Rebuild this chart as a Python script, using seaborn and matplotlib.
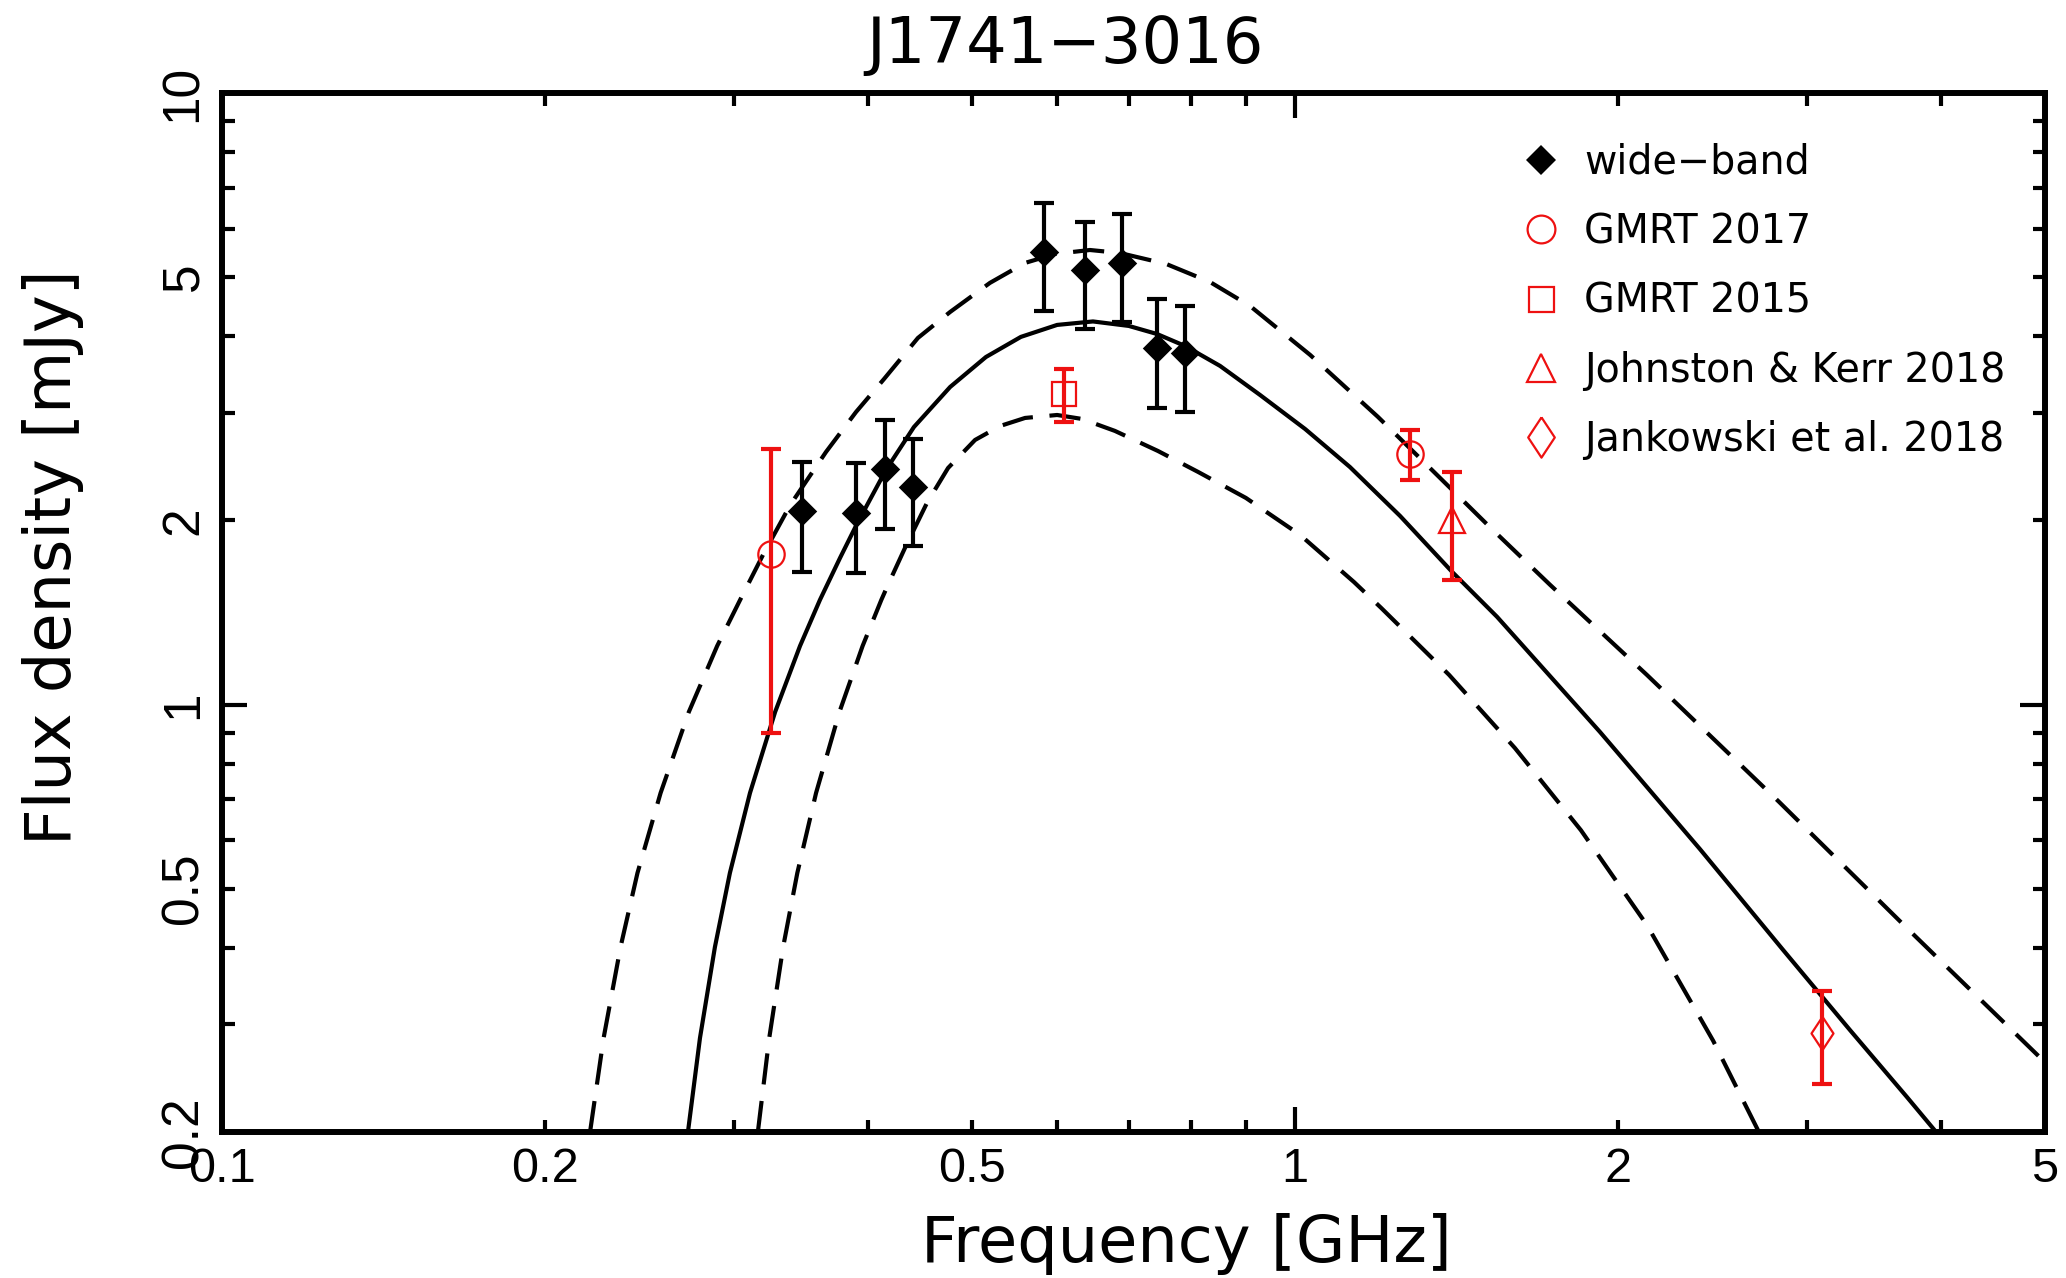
import numpy as np
import pandas as pd
import seaborn as sns
import matplotlib
matplotlib.use('Agg')
import matplotlib.pyplot as plt
from matplotlib.lines import Line2D
from matplotlib.ticker import FixedLocator, FuncFormatter
from matplotlib import font_manager

# ---------------- data ----------------
wb_freq = [0.347, 0.390, 0.415, 0.441, 0.583, 0.637, 0.690, 0.744, 0.789]
wb_flux = [2.07, 2.06, 2.43, 2.27, 5.50, 5.13, 5.28, 3.83, 3.75]
wb_err = [0.42, 0.42, 0.49, 0.45, 1.10, 1.02, 1.05, 0.78, 0.74]

g17_freq = [0.325, 1.28]
g17_flux = [1.76, 2.57]
g17_err = [0.86, 0.245]

g15_freq = [0.609]
g15_flux = [3.22]
g15_err = [0.32]

jk_freq = [1.40]
jk_flux = [2.00]
jk_err = [0.40]

jan_freq = [3.10]
jan_flux = [0.29]
jan_err = [0.05]

fit_freq = [0.2718, 0.2789, 0.2880, 0.2974, 0.3105, 0.3277, 0.3457, 0.3608, 0.3767,
            0.3906, 0.4157, 0.4414, 0.4771, 0.5152, 0.5553, 0.6002, 0.6482, 0.7001,
            0.7436, 0.7898, 0.8514, 0.9277, 1.022, 1.125, 1.253, 1.401, 1.543,
            1.924, 2.385, 2.850, 3.290, 3.719, 3.958]
fit_flux = [0.200, 0.2849, 0.4014, 0.5304, 0.7168, 0.9723, 1.247, 1.483, 1.737,
            1.974, 2.419, 2.843, 3.306, 3.701, 3.992, 4.176, 4.231, 4.160,
            4.036, 3.858, 3.579, 3.208, 2.822, 2.446, 2.034, 1.648, 1.391,
            0.902, 0.580, 0.397, 0.2936, 0.228, 0.200]

up_freq = [0.2203, 0.2268, 0.2352, 0.2439, 0.2563, 0.2723, 0.2894, 0.3040, 0.3193,
           0.3385, 0.3655, 0.3898, 0.4140, 0.4452, 0.4771, 0.5196, 0.5603, 0.5976,
           0.6440, 0.6868, 0.7584, 0.8332, 0.9080, 1.033, 1.195, 1.327, 1.519,
           1.729, 2.128, 2.826, 3.743, 5.0]
up_flux = [0.200, 0.2849, 0.4014, 0.5304, 0.7168, 0.9723, 1.247, 1.483, 1.757,
           2.120, 2.588, 3.008, 3.407, 3.976, 4.385, 4.892, 5.274, 5.455,
           5.537, 5.475, 5.254, 4.909, 4.485, 3.730, 2.953, 2.465, 1.951,
           1.569, 1.118, 0.693, 0.426, 0.260]

lo_freq = [0.3158, 0.3236, 0.3334, 0.3437, 0.3578, 0.3762, 0.3954, 0.4116, 0.4175,
           0.4330, 0.4539, 0.4750, 0.5033, 0.5310, 0.5603, 0.6002, 0.6331, 0.6794,
           0.7452, 0.8122, 0.9000, 1.011, 1.135, 1.203, 1.392, 1.603, 1.847,
           2.128, 2.453, 2.706]
lo_flux = [0.200, 0.2849, 0.4014, 0.5304, 0.7168, 0.9723, 1.247, 1.483, 1.569,
           1.803, 2.136, 2.437, 2.708, 2.854, 2.942, 2.975, 2.931, 2.802,
           2.598, 2.401, 2.177, 1.894, 1.586, 1.439, 1.118, 0.849, 0.623,
           0.436, 0.282, 0.200]

x_major = [0.1, 1.0]
x_minor = [0.2, 0.3, 0.4, 0.5, 0.6, 0.7, 0.8, 0.9, 2.0, 3.0, 4.0, 5.0]
y_major = [1.0, 10.0]
y_minor = [0.2, 0.3, 0.4, 0.5, 0.6, 0.7, 0.8, 0.9, 2.0, 3.0, 4.0, 5.0, 6.0, 7.0, 8.0, 9.0]
labelled = [0.1, 0.2, 0.5, 1.0, 2.0, 5.0, 10.0]

legend_labels = ['wide\u2212band', 'GMRT 2017', 'GMRT 2015',
                 'Johnston & Kerr 2018', 'Jankowski et al. 2018']
title_text = 'J1741\u22123016'
xlabel_text = 'Frequency [GHz]'
ylabel_text = 'Flux density [mJy]'

# ---------------- style ----------------
sns.set_theme(style='white')
names = {f.name for f in font_manager.fontManager.ttflist}
if 'Liberation Sans Narrow' in names:
    tick_font, xsize, ysize = 'Liberation Sans Narrow', 38, 40
elif 'Liberation Sans' in names:
    tick_font, xsize, ysize = 'Liberation Sans', 35, 37
else:
    tick_font, xsize, ysize = 'DejaVu Sans', 31, 33
plt.rcParams['font.family'] = [tick_font, 'DejaVu Sans']
plt.rcParams['axes.unicode_minus'] = True

RED = '#ee1111'
W, H = 2066, 1278
fig = plt.figure(figsize=(W / 100, H / 100), dpi=100)
fig.patch.set_facecolor('white')
L, R, T, B = 222, 2045, 93, 1132
ax = fig.add_axes([L / W, 1 - B / H, (R - L) / W, (B - T) / H])
ax.set_facecolor('white')
ax.set_xscale('log')
ax.set_yscale('log')

DASH = (0, (7.5, 4.0))
# model curves
sns.lineplot(x=fit_freq, y=fit_flux, ax=ax, color='black', lw=3.0,
             sort=False, estimator=None, zorder=2)
sns.lineplot(x=up_freq, y=up_flux, ax=ax, color='black', lw=3.0,
             sort=False, estimator=None, zorder=2, linestyle=DASH)
sns.lineplot(x=lo_freq, y=lo_flux, ax=ax, color='black', lw=3.0,
             sort=False, estimator=None, zorder=2, linestyle=DASH)

# wide-band points
ax.errorbar(wb_freq, wb_flux, yerr=wb_err, fmt='none', ecolor='black',
            elinewidth=3, capsize=7.5, capthick=3, zorder=3)
sns.scatterplot(x=wb_freq, y=wb_flux, ax=ax, marker='D', s=15 ** 2,
                color='black', edgecolor='black', linewidth=0, zorder=4)

jan_marker = [(0, 1), (0.66, 0), (0, -1), (-0.66, 0), (0, 1)]
red_sets = [
    (g17_freq, g17_flux, g17_err, 'o', 19),
    (g15_freq, g15_flux, g15_err, 's', 17),
    (jk_freq, jk_flux, jk_err, '^', 19),
    (jan_freq, jan_flux, jan_err, jan_marker, 24),
]
for fx, fy, fe, mk, ms in red_sets:
    ax.errorbar(fx, fy, yerr=fe, fmt='none', ecolor=RED, elinewidth=3,
                capsize=7.5, capthick=3, zorder=3)
    ax.plot(fx, fy, ls='none', marker=mk, ms=ms, mfc='none', mec=RED,
            mew=1.6, zorder=4)

ax.set_xlim(0.1, 5)
ax.set_ylim(0.2, 10)


def fmt(v, pos):
    for lv in labelled:
        if abs(v - lv) / lv < 1e-6:
            return f'{lv:g}'
    return ''


for axis, maj, mino in ((ax.xaxis, x_major, x_minor), (ax.yaxis, y_major, y_minor)):
    axis.set_major_locator(FixedLocator(maj))
    axis.set_minor_locator(FixedLocator(mino))
    axis.set_major_formatter(FuncFormatter(fmt))
    axis.set_minor_formatter(FuncFormatter(fmt))

ax.tick_params(which='both', direction='in', top=True, right=True,
               bottom=True, left=True, width=3, color='black', labelcolor='black')
ax.tick_params(which='major', length=18)
ax.tick_params(which='minor', length=9)
ax.tick_params(axis='x', which='both', pad=11, labelsize=xsize)
ax.tick_params(axis='y', which='both', pad=10, labelsize=ysize, labelrotation=90)
plt.setp(ax.get_yticklabels(minor=False), va='center')
plt.setp(ax.get_yticklabels(minor=True), va='center')

for s in ax.spines.values():
    s.set_linewidth(4.3)
    s.set_color('black')
ax.grid(False)

dv = ['DejaVu Sans']
fig.text(1065 / W, 1 - 63 / H, title_text, ha='center', va='baseline',
         fontsize=46, family=dv, color='black')
fig.text(1186 / W, 1 - 1262 / H, xlabel_text, ha='center', va='baseline',
         fontsize=46, family=dv, color='black')
fig.text(53 / W, 1 - 557 / H, ylabel_text, ha='center', va='center',
         rotation=90, fontsize=46, family=dv, color='black')

handles = [
    Line2D([], [], ls='none', marker='D', ms=15, mfc='black', mec='black', mew=0),
    Line2D([], [], ls='none', marker='o', ms=20, mfc='none', mec=RED, mew=1.6),
    Line2D([], [], ls='none', marker='s', ms=18, mfc='none', mec=RED, mew=1.6),
    Line2D([], [], ls='none', marker='^', ms=20, mfc='none', mec=RED, mew=1.6),
    Line2D([], [], ls='none', marker=jan_marker, ms=29, mfc='none', mec=RED, mew=1.6),
]
leg = ax.legend(handles, legend_labels, loc='upper left',
                bbox_to_anchor=(1521 / W, 1 - 143 / H), bbox_transform=fig.transFigure,
                frameon=False, prop={'family': dv, 'size': 28.5},
                handlelength=1.0, handletextpad=0.6, labelspacing=0.74,
                borderpad=0, borderaxespad=0)
for t in leg.get_texts():
    t.set_color('black')

fig.savefig('out.png', dpi=100, facecolor='white')
